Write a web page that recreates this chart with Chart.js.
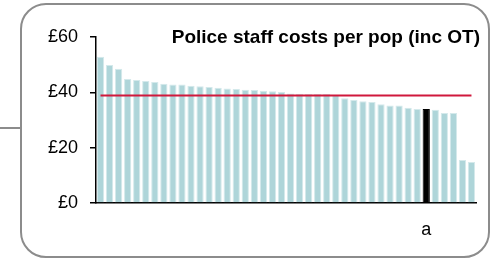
<!DOCTYPE html>
<html lang="en">
<head>
    <meta charset="UTF-8">
    <title>Police staff costs per pop</title>
    <style>
        body { margin: 0; background: #fff; }
        .wrap { position: relative; width: 493px; height: 259px; overflow: hidden; }
        .frame {
            position: absolute; left: 20px; top: 3px; width: 466px; height: 251px;
            border: 2px solid #8c8c8c; border-radius: 26px;
        }
        .link { position: absolute; left: 0; top: 127px; width: 21px; height: 2px; background: #8c8c8c; }
        .title {
            position: absolute; right: 13px; top: 26px;
            font: bold 19px "Liberation Sans", Arial, sans-serif; line-height: 22px; color: #000;
        }
        canvas { position: absolute; left: 0; top: 0; }
    </style>
</head>
<body>
    <div class="wrap">
        <div class="frame"></div>
        <div class="link"></div>
        <canvas id="costChart" width="493" height="259"></canvas>
        <div class="title">Police staff costs per pop (inc OT)</div>
    </div>
<script src="https://cdn.jsdelivr.net/npm/chart.js"></script>
<script>
    // one bar per force, sorted high to low; only the highlighted force is labelled
    const forces = ['', '', '', '', '', '', '', '', '', '', '', '', '', '', '', '', '', '', '', '', '',
        '', '', '', '', '', '', '', '', '', '', '', '', '', '', '', 'a', '', '', '', '', ''];
    const costs = [52.9, 49.9, 48.5, 44.8, 44.5, 44.1, 43.7, 43.1, 42.8, 42.8, 42.4, 42.2, 41.9, 41.7,
        41.4, 41.2, 40.9, 40.8, 40.6, 40.4, 40.1, 39.6, 39.5, 39.4, 39.4, 39.4, 39.0, 37.9, 37.2, 36.8,
        36.5, 35.7, 35.2, 35.2, 34.4, 34.0, 34.0, 33.7, 32.5, 32.5, 15.5, 14.8];
    const average = 38.9;
    const yTicks = [0, 20, 40, 60];

    const highlight = forces.indexOf('a');
    const barColours = costs.map((v, i) => i === highlight ? '#000000' : '#aed5d9');
    const barEdges = costs.map((v, i) => i === highlight ? '#000000' : '#d4e9eb');

    const font = { family: '"Liberation Sans", Arial, sans-serif', size: 18 };

    new Chart(document.getElementById('costChart'), {
        data: {
            labels: forces,
            datasets: [{
                type: 'line',
                data: forces.map(() => average),
                borderColor: '#d0183c',
                borderWidth: 2,
                pointRadius: 0,
                order: 0
            }, {
                type: 'bar',
                data: costs,
                backgroundColor: barColours,
                borderColor: barEdges,
                borderWidth: 1,
                barPercentage: 0.8,
                categoryPercentage: 1,
                order: 1
            }]
        },
        options: {
            responsive: false,
            animation: false,
            layout: { padding: { left: 0, top: 37, right: 17, bottom: 0 } },
            plugins: { legend: { display: false }, tooltip: { enabled: false } },
            scales: {
                x: {
                    grid: { display: true, drawOnChartArea: false, drawTicks: false },
                    border: { display: true, color: '#000', width: 1.5 },
                    ticks: { autoSkip: false, maxRotation: 0, color: '#000', font: font, padding: 16 },
                    afterFit: s => { s.height = 56; }
                },
                y: {
                    min: 0,
                    max: 60,
                    afterBuildTicks: s => { s.ticks = yTicks.map(v => ({ value: v })); },
                    grid: { drawOnChartArea: false, drawTicks: true, tickLength: 6, color: '#000', lineWidth: 1.5 },
                    border: { display: true, color: '#000', width: 1.5 },
                    ticks: { color: '#000', font: font, padding: 12, callback: v => '£' + v },
                    afterFit: s => { s.width = 96; }
                }
            }
        }
    });
</script>
</body>
</html>
